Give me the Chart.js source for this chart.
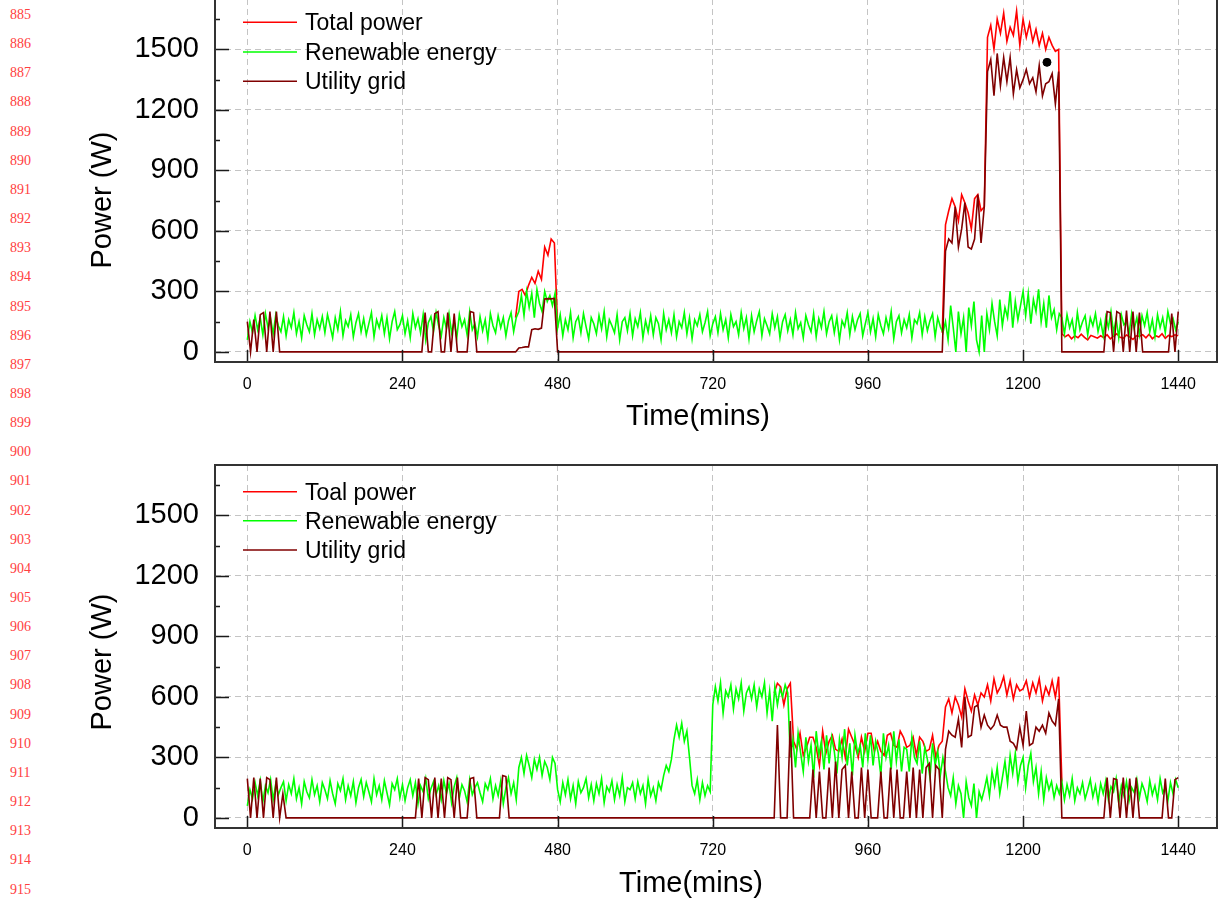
<!DOCTYPE html>
<html>
<head>
<meta charset="utf-8">
<script src="https://cdn.jsdelivr.net/npm/chart.js@4"></script>
<style>
html, body { margin: 0; padding: 0; background: #fff; }
body { width: 1218px; height: 905px; position: relative; overflow: hidden; }
canvas { position: absolute; left: 0; }
#c1 { top: -1px; }
#c2 { top: 440px; }
.ln { position: absolute; left: 10px; font: 14px "Liberation Serif", "Times New Roman", serif; color: #ff4040; line-height: 16px; }
</style>
</head>
<body>
<div id="lines"></div>
<canvas id="c1" width="1218" height="441"></canvas>
<canvas id="c2" width="1218" height="465"></canvas>
<script>
const N = null;
// total / grid sampled every 5 min, renewable every 4 min (0..1440)
const minutes = Array.from({ length: 289 }, (_, i) => i * 5);
const minutes4 = Array.from({ length: 361 }, (_, i) => i * 4);
const xTicks = [0, 240, 480, 720, 960, 1200, 1440];
const yTicks = [0, 300, 600, 900, 1200, 1500];
const yMinorTicks = [150, 450, 750, 1050, 1350, 1650];

// ---- scenario 1 (top) ----
const total1 = [
  N, N, N, N, N, N, N, N, N, N, N, N,
  N, N, N, N, N, N, N, N, N, N, N, N,
  N, N, N, N, N, N, N, N, N, N, N, N,
  N, N, N, N, N, N, N, N, N, N, N, N,
  N, N, N, N, N, N, N, N, N, N, N, N,
  N, N, N, N, N, N, N, N, N, N, N, N,
  N, N, N, N, N, N, N, N, N, N, N, 170,
  300, 310, 280, 330, 370, 340, 400, 360, 520, 480, 560, 540,
  120, N, N, N, N, N, N, N, N, N, N, N,
  N, N, N, N, N, N, N, N, N, N, N, N,
  N, N, N, N, N, N, N, N, N, N, N, N,
  N, N, N, N, N, N, N, N, N, N, N, N,
  N, N, N, N, N, N, N, N, N, N, N, N,
  N, N, N, N, N, N, N, N, N, N, N, N,
  N, N, N, N, N, N, N, N, N, N, N, N,
  N, N, N, N, N, N, N, N, N, N, N, N,
  N, N, N, N, N, N, N, N, N, N, N, N,
  N, N, N, N, N, N, N, N, N, N, N, 95,
  630, 700, 760, 720, 650, 780, 740, 690, 610, 760, 780, 700,
  720, 1560, 1620, 1500, 1650, 1580, 1680, 1540, 1610, 1570, 1690, 1520,
  1650, 1560, 1630, 1540, 1600, 1520, 1580, 1500, 1560, 1520, 1490, 1500,
  90, 75, 85, 65, 80, 70, 88, 72, 60, 82, 75, 68,
  80, 70, 85, 65, 78, 90, 72, 68, 84, 75, 62, 80,
  78, 85, 70, 88, 65, 80, 74, 90, 68, 82, 76, 85,
  80
];
const renew1 = [
  60, 150, 95, 180, 110, 170, 85, 190, 120, 165, 90, 185, 130, 100, 175,
  80, 160, 120, 195, 90, 150, 70, 180, 135, 100, 190, 85, 160, 115, 175,
  95, 185, 130, 70, 170, 110, 200, 80, 155, 125, 185, 75, 145, 190, 100,
  165, 85, 140, 195, 75, 160, 120, 180, 90, 170, 65, 150, 200, 110, 135,
  180, 90, 155, 70, 190, 120, 165, 95, 185, 60, 145, 175, 100, 195, 130,
  80, 170, 115, 190, 95, 150, 70, 185, 125, 160, 85, 200, 110, 140, 75,
  175, 105, 160, 65, 190, 130, 95, 180, 120, 170, 80, 155, 195, 100, 170,
  200, 280, 180, 300, 220, 290, 170, 310, 240, 200, 300, 250, 280, 230, 290,
  120, 185, 80, 160, 110, 195, 70, 150, 175, 95, 190, 125, 65, 170, 140,
  90, 180, 115, 200, 75, 160, 130, 95, 185, 60, 150, 170, 105, 190, 80,
  165, 125, 195, 70, 155, 100, 180, 85, 170, 140, 60, 190, 110, 160, 95,
  185, 75, 150, 120, 195, 90, 170, 65, 160, 130, 185, 100, 145, 200, 80,
  140, 175, 95, 190, 110, 160, 70, 185, 125, 150, 85, 195, 115, 170, 65,
  180, 100, 155, 200, 80, 165, 130, 90, 190, 120, 175, 70, 150, 185, 105,
  160, 85, 195, 115, 145, 70, 180, 135, 100, 190, 75, 165, 120, 200, 90,
  150, 180, 95, 170, 60, 155, 125, 195, 85, 175, 110, 160, 190, 80, 140,
  195, 100, 165, 75, 185, 130, 90, 170, 115, 200, 65, 150, 180, 95, 160,
  120, 185, 70, 160, 140, 195, 85, 175, 105, 155, 190, 75, 170, 125, 95,
  150, 60, 230, 120, 0, 200, 90, 170, 0, 220, 130, 250, 60, 0, 180,
  0, 190, 110, 240, 150, 80, 260, 130, 220, 170, 300, 120, 250, 160, 230,
  300, 180, 290, 140, 260, 200, 310, 150, 240, 120, 280, 170, 210, 110, 190,
  170, 90, 185, 120, 160, 75, 195, 110, 150, 180, 85, 170, 130, 190, 100,
  155, 80, 175, 120, 200, 95, 165, 70, 185, 135, 150, 90, 190, 115, 170,
  85, 180, 130, 195, 100, 160, 75, 185, 120, 170, 95, 200, 140, 165, 110,
  150
];
const grid1 = [
  150, 0, 160, 0, 185, 195, 0, 200, 0, 200, 0, 0,
  0, 0, 0, 0, 0, 0, 0, 0, 0, 0, 0, 0,
  0, 0, 0, 0, 0, 0, 0, 0, 0, 0, 0, 0,
  0, 0, 0, 0, 0, 0, 0, 0, 0, 0, 0, 0,
  0, 0, 0, 0, 0, 0, 0, 195, 0, 0, 190, 200,
  0, 0, 195, 0, 190, 0, 0, 0, 0, 200, 195, 0,
  0, 0, 0, 0, 0, 0, 0, 0, 0, 0, 0, 0,
  20, 22, 25, 25, 110, 115, 112, 118, 262, 264, 263, 265,
  0, 0, 0, 0, 0, 0, 0, 0, 0, 0, 0, 0,
  0, 0, 0, 0, 0, 0, 0, 0, 0, 0, 0, 0,
  0, 0, 0, 0, 0, 0, 0, 0, 0, 0, 0, 0,
  0, 0, 0, 0, 0, 0, 0, 0, 0, 0, 0, 0,
  0, 0, 0, 0, 0, 0, 0, 0, 0, 0, 0, 0,
  0, 0, 0, 0, 0, 0, 0, 0, 0, 0, 0, 0,
  0, 0, 0, 0, 0, 0, 0, 0, 0, 0, 0, 0,
  0, 0, 0, 0, 0, 0, 0, 0, 0, 0, 0, 0,
  0, 0, 0, 0, 0, 0, 0, 0, 0, 0, 0, 0,
  0, 0, 0, 0, 0, 0, 0, 0, 0, 0, 0, 0,
  500, 560, 540, 720, 520, 610, 740, 520, 510, 560, 780, 540,
  720, 1390, 1450, 1270, 1480, 1320, 1460, 1340, 1460, 1280, 1400, 1310,
  1350, 1400, 1330, 1360, 1290, 1420, 1270, 1330, 1340, 1380, 1230, 1390,
  0, 0, 0, 0, 0, 0, 0, 0, 0, 0, 0, 0,
  0, 0, 200, 195, 0, 200, 190, 0, 205, 0, 200, 0,
  195, 0, 0, 0, 0, 0, 0, 0, 0, 0, 190, 0,
  200
];
const markerTime = [1237];
const markerPower = [1436];

// ---- scenario 2 (bottom) ----
const total2 = [
  N, N, N, N, N, N, N, N, N, N, N, N,
  N, N, N, N, N, N, N, N, N, N, N, N,
  N, N, N, N, N, N, N, N, N, N, N, N,
  N, N, N, N, N, N, N, N, N, N, N, N,
  N, N, N, N, N, N, N, N, N, N, N, N,
  N, N, N, N, N, N, N, N, N, N, N, N,
  N, N, N, N, N, N, N, N, N, N, N, N,
  N, N, N, N, N, N, N, N, N, N, N, N,
  N, N, N, N, N, N, N, N, N, N, N, N,
  N, N, N, N, N, N, N, N, N, N, N, N,
  N, N, N, N, N, N, N, N, N, N, N, N,
  N, N, N, N, N, N, N, N, N, N, N, N,
  N, N, N, N, N, N, N, N, N, N, N, N,
  N, N, N, N, N, N, N, 620, 668, 650, 560, 640,
  668, 380, 340, 420, 310, 350, 400, 400, 350, 260, 430, 320,
  380, 410, 340, 330, 390, 300, 440, 400, 360, 300, 400, 330,
  420, 420, 330, 380, 330, 310, 410, 420, 360, 350, 430, 400,
  350, 360, 400, 310, 400, 380, 330, 340, 410, 300, 360, 380,
  550, 590, 520, 600, 560, 500, 640, 580, 530, 610, 560, 620,
  600, 660, 580, 690, 620, 650, 700, 610, 680, 590, 660, 630,
  640, 680, 600, 670, 620, 690, 580, 650, 610, 680, 600, 700,
  180, N, N, N, N, N, N, N, N, N, N, N,
  N, N, N, N, N, N, N, N, N, N, N, N,
  N, N, N, N, N, N, N, N, N, N, N, N,
  N
];
const renew2 = [
  60, 140, 95, 175, 110, 185, 80, 160, 125, 190, 90, 170, 115, 150, 180,
  85, 165, 120, 195, 95, 150, 70, 180, 130, 100, 190, 115, 160, 80, 175,
  140, 95, 185, 120, 70, 170, 135, 195, 90, 160, 110, 180, 75, 150, 190,
  105, 175, 130, 80, 195, 115, 160, 90, 185, 125, 65, 170, 140, 195, 100,
  165, 85, 150, 190, 110, 175, 70, 160, 130, 195, 95, 145, 180, 115, 160,
  90, 185, 120, 170, 75, 155, 200, 100, 165, 135, 80, 190, 115, 150, 175,
  125, 80, 170, 140, 195, 95, 160, 110, 185, 70, 150, 200, 120, 175, 90,
  250, 300, 220, 310, 260, 200, 290, 240, 300, 210, 280, 250, 190, 300, 270,
  140, 80, 175, 115, 190, 95, 160, 70, 180, 125, 150, 195, 100, 165, 85,
  170, 120, 195, 75, 155, 130, 185, 90, 165, 110, 200, 80, 150, 140, 175,
  95, 180, 120, 160, 70, 190, 110, 150, 85, 175, 140, 210, 260, 230, 290,
  390, 460, 400, 470, 380, 430, 300, 160, 120, 190, 90, 175, 110, 160, 130,
  560, 650, 580, 670, 520, 630, 600, 660, 540, 640, 590, 670, 530, 620, 650,
  590, 660, 550, 640, 600, 670, 520, 630, 480, 650, 560, 640, 600, 660, 620,
  300, 390, 250, 420, 320, 230, 400, 280, 360, 200, 430, 310, 380, 240, 410,
  270, 400, 330, 220, 390, 300, 440, 260, 370, 210, 410, 320, 360, 250, 420,
  290, 410, 260, 380, 320, 210, 420, 300, 360, 240, 430, 280, 390, 230, 350,
  340, 230, 400, 300, 270, 380, 220, 350, 290, 200, 370, 260, 330, 210, 300,
  230, 150, 110, 200, 70, 160, 120, 0, 180, 100, 60, 170, 0, 130, 90,
  140, 200, 110, 230, 160, 250, 120, 200, 280, 170, 310, 220, 320, 180, 260,
  300, 150, 260, 320, 180, 250, 120, 230, 90, 200, 140, 180, 100, 160, 120,
  180, 90, 165, 110, 195, 85, 150, 120, 175, 95, 140, 190, 105, 160, 80,
  170, 120, 185, 90, 155, 130, 195, 75, 160, 110, 180, 85, 150, 125, 190,
  100, 170, 135, 80, 185, 115, 160, 90, 195, 125, 150, 85, 175, 120, 190,
  150
];
const grid2 = [
  195, 0, 200, 0, 195, 0, 200, 190, 0, 200, 0, 120,
  0, 0, 0, 0, 0, 0, 0, 0, 0, 0, 0, 0,
  0, 0, 0, 0, 0, 0, 0, 0, 0, 0, 0, 0,
  0, 0, 0, 0, 0, 0, 0, 0, 0, 0, 0, 0,
  0, 0, 0, 0, 0, 195, 0, 200, 190, 0, 200, 0,
  195, 0, 200, 190, 0, 200, 0, 0, 0, 195, 200, 0,
  0, 0, 0, 0, 0, 0, 0, 210, 205, 0, 0, 0,
  0, 0, 0, 0, 0, 0, 0, 0, 0, 0, 0, 0,
  0, 0, 0, 0, 0, 0, 0, 0, 0, 0, 0, 0,
  0, 0, 0, 0, 0, 0, 0, 0, 0, 0, 0, 0,
  0, 0, 0, 0, 0, 0, 0, 0, 0, 0, 0, 0,
  0, 0, 0, 0, 0, 0, 0, 0, 0, 0, 0, 0,
  0, 0, 0, 0, 0, 0, 0, 0, 0, 0, 0, 0,
  0, 0, 0, 0, 0, 0, 0, 0, 460, 0, 0, 0,
  480, 0, 0, 0, 0, 0, 0, 240, 0, 230, 0, 0,
  250, 0, 280, 0, 240, 260, 0, 230, 0, 0, 250, 0,
  240, 0, 0, 0, 230, 0, 0, 250, 0, 240, 0, 0,
  230, 0, 250, 0, 240, 0, 250, 270, 0, 260, 240, 0,
  340, 430, 410, 400, 490, 350, 600, 400, 410, 550, 560, 450,
  510, 460, 440, 460, 510, 460, 450, 450, 380, 370, 340, 450,
  360, 530, 360, 370, 450, 430, 460, 420, 520, 480, 460, 590,
  0, 0, 0, 0, 0, 0, 0, 0, 0, 0, 0, 0,
  0, 0, 200, 0, 195, 190, 0, 200, 0, 195, 0, 200,
  0, 0, 0, 0, 0, 0, 0, 0, 195, 0, 0, 190,
  200
];

const seriesColors = ["#ff0000", "#00ff00", "#800000"];
const FONT = '"Liberation Sans", Arial, sans-serif';

// paper line numbers down the left margin
const lines = document.getElementById("lines");
for (let n = 885; n <= 915; n++) {
    const d = document.createElement("div");
    d.className = "ln";
    d.style.top = (15 + (n - 885) * 29.15 - 8) + "px";
    d.textContent = n;
    lines.appendChild(d);
}

function framePlugin(cfg) {
    return {
        id: "frame",
        afterDraw(chart) {
            const { ctx, chartArea: a, scales } = chart;
            const xs = scales.x, ys = scales.y;
            ctx.save();
            // inward tick marks
            ctx.strokeStyle = "#1a1a1a";
            ctx.lineWidth = 1.5;
            ctx.beginPath();
            xTicks.forEach(v => {
                const p = Math.round(xs.getPixelForValue(v)) + 0.5;
                ctx.moveTo(p, a.bottom);
                ctx.lineTo(p, a.bottom - 12);
            });
            yTicks.forEach(v => {
                const p = Math.round(ys.getPixelForValue(v)) + 0.5;
                ctx.moveTo(a.left, p);
                ctx.lineTo(a.left + 14, p);
            });
            yMinorTicks.forEach(v => {
                const p = Math.round(ys.getPixelForValue(v)) + 0.5;
                ctx.moveTo(a.left, p);
                ctx.lineTo(a.left + 5, p);
            });
            ctx.stroke();
            // plot box
            ctx.strokeStyle = "#333";
            ctx.lineWidth = 2;
            ctx.strokeRect(a.left, a.top, a.right - a.left, a.bottom - a.top);
            // legend
            ctx.font = "23px " + FONT;
            ctx.fillStyle = "#000";
            ctx.textAlign = "left";
            ctx.textBaseline = "alphabetic";
            cfg.names.forEach((name, i) => {
                const ly = cfg.legendY[i];
                ctx.strokeStyle = seriesColors[i];
                ctx.lineWidth = 1.5;
                ctx.beginPath();
                ctx.moveTo(243, ly);
                ctx.lineTo(297, ly);
                ctx.stroke();
                ctx.fillText(name, 305, ly + 8);
            });
            // axis titles
            ctx.font = "29px " + FONT;
            ctx.textAlign = "center";
            ctx.fillText("Time(mins)", cfg.xTitle[0], cfg.xTitle[1]);
            ctx.translate(cfg.yTitle[0], cfg.yTitle[1]);
            ctx.rotate(-Math.PI / 2);
            ctx.fillText("Power (W)", 0, 0);
            ctx.restore();
        }
    };
}

function makeChart(id, cfg) {
    const datasets = [
        { label: cfg.names[0], data: cfg.total, borderColor: seriesColors[0], order: 2 },
        {
            label: cfg.names[1],
            data: cfg.renew.map((v, i) => ({ x: minutes4[i], y: v })),
            borderColor: seriesColors[1],
            order: 1
        },
        { label: cfg.names[2], data: cfg.grid, borderColor: seriesColors[2], order: 0 }
    ];
    if (cfg.marker) {
        datasets.push({
            type: "scatter",
            label: "marker",
            data: markerTime.map((t, i) => ({ x: t, y: markerPower[i] })),
            pointRadius: 4,
            backgroundColor: "#000",
            borderColor: "#000",
            order: -1
        });
    }
    return new Chart(document.getElementById(id), {
        type: "line",
        data: { labels: minutes, datasets },
        options: {
            responsive: false,
            animation: false,
            layout: { autoPadding: false, padding: { top: cfg.padTop, right: 1, left: 0, bottom: 0 } },
            elements: {
                line: { borderWidth: 1.6, tension: 0 },
                point: { radius: 0 }
            },
            plugins: { legend: { display: false }, tooltip: { enabled: false } },
            scales: {
                x: {
                    type: "linear",
                    min: -50,
                    max: 1500,
                    afterBuildTicks: s => { s.ticks = xTicks.map(v => ({ value: v })); },
                    afterFit: s => { s.height = cfg.xHeight; s.paddingLeft = 0; s.paddingRight = 0; },
                    grid: { color: "#c4c4c4", drawTicks: false },
                    border: { display: false, dash: [6, 4] },
                    ticks: {
                        padding: 13, color: "#000", autoSkip: false, maxRotation: 0,
                        font: { family: FONT, size: 16 },
                        callback: v => String(v)
                    }
                },
                y: {
                    min: -50,
                    max: 1750,
                    afterBuildTicks: s => { s.ticks = yTicks.map(v => ({ value: v })); },
                    afterFit: s => { s.width = 215; s.paddingTop = 0; s.paddingBottom = 0; },
                    grid: { color: "#c4c4c4", drawTicks: false },
                    border: { display: false, dash: [6, 4] },
                    ticks: {
                        padding: 16, color: "#000",
                        font: { family: FONT, size: 29 },
                        callback: v => String(v)
                    }
                }
            }
        },
        plugins: [framePlugin(cfg)]
    });
}

makeChart("c1", {
    names: ["Total power", "Renewable energy", "Utility grid"],
    total: total1, renew: renew1, grid: grid1, marker: true,
    padTop: 0, xHeight: 78,
    legendY: [23.3, 53, 82.3],
    xTitle: [698, 426], yTitle: [111, 201]
});

makeChart("c2", {
    names: ["Toal power", "Renewable energy", "Utility grid"],
    total: total2, renew: renew2, grid: grid2, marker: false,
    padTop: 25, xHeight: 77,
    legendY: [51.7, 80.7, 110],
    xTitle: [691, 452], yTitle: [111, 222]
});
</script>
</body>
</html>
